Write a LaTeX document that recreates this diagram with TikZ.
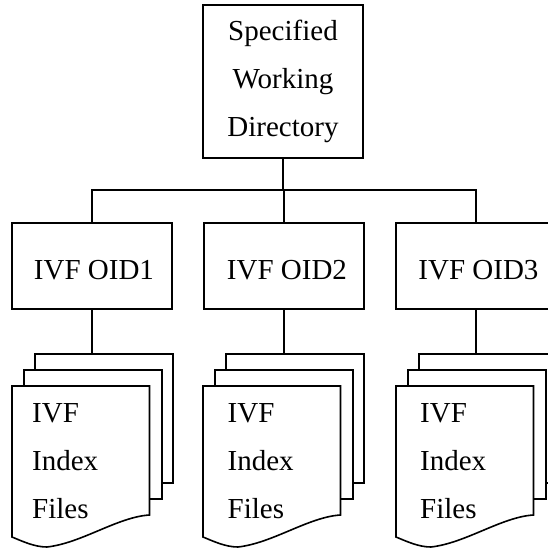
\documentclass[tikz,border=0pt]{standalone}
\usepackage{fontspec}
\setmainfont{Liberation Serif}
\usepackage{tikz}
\usetikzlibrary{positioning,calc}
\tikzset{
    on grid,
    x=1pt,
    y=1pt,
    every node/.style = {
        font=\fontsize{29}{48}\selectfont
    },
    block/.style = {
        draw,
        shape=rectangle,
        minimum width=160pt,
        minimum height=86pt,
        text height=28pt,
        text depth=0pt,
        line width=1.6pt
    },
    topblock/.style = {
        draw,
        shape=rectangle,
        minimum width=160pt,
        minimum height=153pt,
        align=center,
        line width=1.6pt
    },
    sheet/.style = {
        draw,
        fill=white,
        shape=rectangle,
        anchor=north west,
        minimum width=138pt,
        minimum height=129.5pt,
        line width=1.6pt
    },
    empty/.style = {
        shape=rectangle,
        anchor=north west,
        align=left,
        inner sep=0pt
    },
}

\begin{document}
\begin{tikzpicture}
            \clip (0,0) rectangle (548,549);

            \node[topblock] (top) at (283,467.5) {Specified\\Working\\Directory};
            \node[block, below=184.5pt of top, xshift=1pt] (oid2) {\hspace{6pt}IVF OID2};
            \node[block, left=192pt of oid2] (oid1) {\hspace{4pt}IVF OID1};
            \node[block, right=192pt of oid2] (oid3) {\hspace{5pt}IVF OID3};
            \coordinate[below=108.5pt of top] (bus);

            \path[draw, line width=1.6pt] (oid1.north) |- (bus) -| (oid3.north);
            \path[draw, line width=2pt] (top.south) -- (bus);
            \path[draw, line width=1.6pt] (bus -| oid2.north) -- (oid2.north);

            \foreach \n/\x/\t in {1/12/20,2/203/24.5,3/396/24} {
                \node[sheet] (back\n) at (\x+22,196) {};
                \node[sheet] (mid\n) at (\x+11,180) {};
                \coordinate (front\n) at (\x,163);
                \path[draw, line width=1.6pt, fill=white] (front\n) -- ++(137.5,0) -- ++(0,-129)
                    .. controls +(-32,-2) and +(35,4) .. ($(front\n)+(35,-161)$)
                    .. controls +(-12,0) and +(12,-5) .. ($(front\n)+(0,-151)$) -- cycle;
                \node[empty, below right=17pt and \t pt of front\n] (files\n) {IVF\\Index\\Files};
                \path[draw, line width=1.6pt] (oid\n.south) -- (oid\n.south |- back\n.north);
            }
        \end{tikzpicture}
\end{document}
